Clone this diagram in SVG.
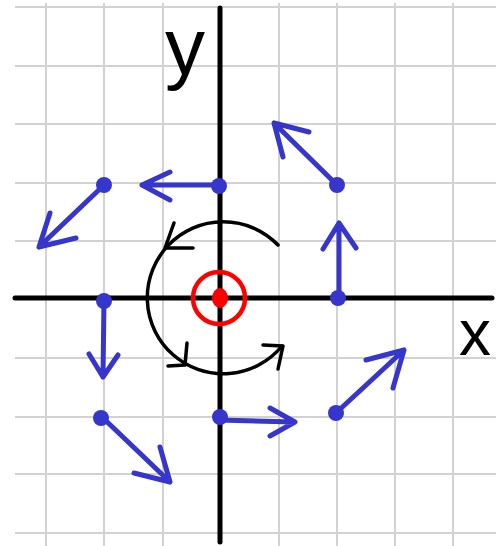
<svg xmlns="http://www.w3.org/2000/svg" width="496" height="546" viewBox="0 0 496 546">
<style>
.grid line{stroke:#d2d2d2;stroke-width:2}
.axis{stroke:#000;stroke-width:5;stroke-linecap:round}
.vec{stroke:#3636cc;stroke-width:5;stroke-linecap:round;stroke-linejoin:round;fill:none}
.dot{fill:#3636cc}
.rot{stroke:#000;stroke-width:3.5;fill:none;stroke-linecap:round;stroke-linejoin:round}
.lbl{font-family:"Liberation Sans","DejaVu Sans",sans-serif;fill:#000}
</style>
<rect width="496" height="546" fill="#fff"/>
<g class="grid">
<line x1="46" y1="3" x2="46" y2="546"/>
<line x1="104" y1="3" x2="104" y2="546"/>
<line x1="163" y1="3" x2="163" y2="546"/>
<line x1="279" y1="3" x2="279" y2="546"/>
<line x1="337" y1="3" x2="337" y2="546"/>
<line x1="395" y1="3" x2="395" y2="546"/>
<line x1="453" y1="3" x2="453" y2="546"/>
<line x1="15" y1="7" x2="496" y2="7"/>
<line x1="15" y1="66" x2="496" y2="66"/>
<line x1="15" y1="124" x2="496" y2="124"/>
<line x1="15" y1="183" x2="496" y2="183"/>
<line x1="15" y1="241" x2="496" y2="241"/>
<line x1="15" y1="358" x2="496" y2="358"/>
<line x1="15" y1="417" x2="496" y2="417"/>
<line x1="15" y1="474" x2="496" y2="474"/>
<line x1="15" y1="533" x2="496" y2="533"/>
</g>
<g id="axes">
<line class="axis" x1="15" y1="298" x2="492" y2="298"/>
<line class="axis" x1="220" y1="8" x2="220" y2="542"/>
</g>
<g id="labels">
<text class="lbl" x="165" y="74" font-size="80">y</text>
<text class="lbl" x="459" y="355" font-size="64">x</text>
</g>
<g id="rotation">
<path class="rot" d="M278,245 A76,76 0 1 0 282,346"/>
<path class="rot" d="M174,223 L165,248 L193,248"/>
<path class="rot" d="M187,343 L185,365 L168,366"/>
<path class="rot" d="M263,345 L283,346 L278,369"/>
</g>
<g id="origin">
<circle cx="219" cy="298" r="26" fill="none" stroke="#ff0000" stroke-width="4.5"/>
<ellipse cx="220" cy="298" rx="8" ry="10" fill="#ff0000"/>
</g>
<g id="connectors">
<path class="vec" d="M219,185 L142,185 M170,172 L142,185 L170,200"/>
<path class="vec" d="M104,185 L39,247 M50,213 L39,247 L76,238"/>
<path class="vec" d="M337,185 L274,123 M309,132 L274,123 L283,157"/>
<path class="vec" d="M339,298 L339,223 M323,249 L339,223 L356,248"/>
<path class="vec" d="M104,299 L103,377 M89,354 L103,377 L118,355"/>
<path class="vec" d="M102,417 L170,482 M134,473 L170,482 L160,447"/>
<path class="vec" d="M219,420 L295,422 M270,408 L295,422 L270,436"/>
<path class="vec" d="M337,412 L404,350 M366,360 L404,350 L393,388"/>
</g>
<g id="n1"><circle class="dot" cx="219" cy="186" r="8"/></g>
<g id="n2"><circle class="dot" cx="104" cy="185" r="8"/></g>
<g id="n3"><circle class="dot" cx="337" cy="185" r="8"/></g>
<g id="n4"><circle class="dot" cx="104" cy="301" r="8"/></g>
<g id="n5"><circle class="dot" cx="338" cy="298" r="8"/></g>
<g id="n6"><circle class="dot" cx="101" cy="418" r="8"/></g>
<g id="n7"><circle class="dot" cx="220" cy="417" r="8"/></g>
<g id="n8"><circle class="dot" cx="336" cy="413" r="8"/></g>
</svg>
